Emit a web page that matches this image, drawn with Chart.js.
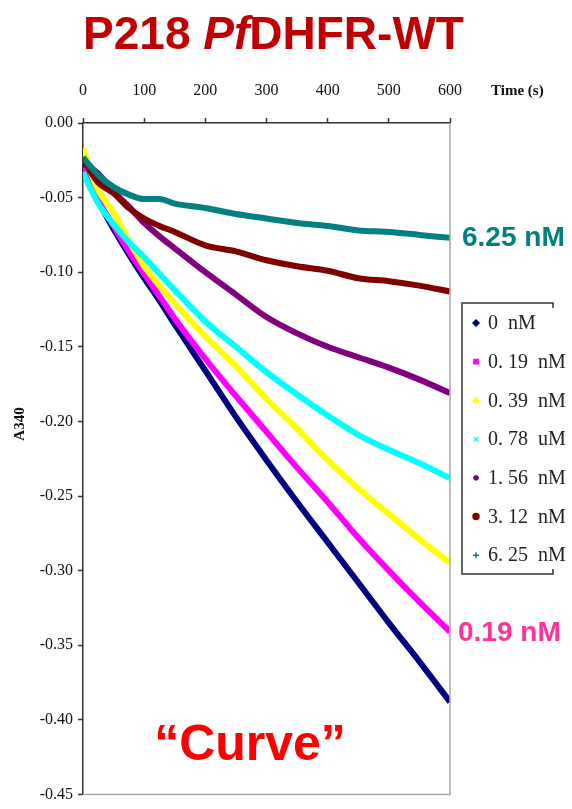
<!DOCTYPE html>
<html>
<head>
<meta charset="utf-8">
<script src="https://cdn.jsdelivr.net/npm/chart.js@4.4.0/dist/chart.umd.min.js"></script>
<style>
  html, body { margin: 0; padding: 0; background: #fff; }
  #wrap { position: relative; width: 572px; height: 809px; }
  #title {
    position: absolute; left: 0; top: 7px; width: 547px; text-align: center;
    font: bold 46px "Liberation Sans", Arial, sans-serif; line-height: 52px; color: #c00000;
    z-index: 2;
  }
  canvas { position: absolute; left: 0; top: 0; }
</style>
</head>
<body>
<div id="wrap">
  <div id="title">P218 <i>Pf</i>DHFR-WT</div>
  <canvas id="lineChart" width="572" height="809"></canvas>
</div>
<script>
"use strict";

// time points (s)
const times = [0, 10, 25, 50, 75, 100, 125, 150, 200, 250, 300, 350, 400, 450, 500, 550, 600];

// A340 readings for each inhibitor concentration
const nm_0    = [-0.025, -0.037, -0.052, -0.071, -0.088, -0.104, -0.119, -0.135, -0.166, -0.197, -0.226, -0.254, -0.281, -0.308, -0.335, -0.361, -0.388];
const nm_019  = [-0.030, -0.040, -0.052, -0.069, -0.086, -0.101, -0.116, -0.131, -0.158, -0.183, -0.207, -0.231, -0.254, -0.278, -0.300, -0.321, -0.341];
const nm_039  = [-0.017, -0.030, -0.045, -0.060, -0.079, -0.096, -0.109, -0.121, -0.143, -0.163, -0.185, -0.205, -0.226, -0.245, -0.262, -0.279, -0.295];
const nm_078  = [-0.033, -0.042, -0.054, -0.068, -0.080, -0.090, -0.101, -0.112, -0.133, -0.150, -0.167, -0.182, -0.196, -0.209, -0.219, -0.228, -0.238];
const nm_156  = [-0.025, -0.029, -0.034, -0.046, -0.056, -0.067, -0.076, -0.084, -0.100, -0.115, -0.130, -0.141, -0.150, -0.157, -0.164, -0.172, -0.181];
const nm_312  = [-0.023, -0.031, -0.040, -0.047, -0.057, -0.064, -0.069, -0.073, -0.082, -0.086, -0.092, -0.096, -0.099, -0.104, -0.106, -0.109, -0.113];
const nm_625  = [-0.023, -0.028, -0.035, -0.043, -0.048, -0.051, -0.051, -0.054, -0.057, -0.061, -0.064, -0.067, -0.069, -0.072, -0.073, -0.075, -0.077];

const legendLabels = ["0  nM", "0. 19  nM", "0. 39  nM", "0. 78  uM", "1. 56  nM", "3. 12  nM", "6. 25  nM"];
const yTicks = [0, -0.05, -0.10, -0.15, -0.20, -0.25, -0.30, -0.35, -0.40, -0.45];

const series = [nm_0, nm_019, nm_039, nm_078, nm_156, nm_312, nm_625];
const colors = ["#000080", "#ff00ff", "#ffff00", "#00ffff", "#800080", "#800000", "#008080"];
const marks = ["rectRot", "rect", "triangle", "crossRot", "star", "circle", "cross"];

const serif = '"Liberation Serif", "Times New Roman", serif';
const sans = '"Liberation Sans", Arial, sans-serif';

const extras = {
  id: "extras",
  afterDraw(chart) {
    const ctx = chart.ctx;
    const a = chart.chartArea;
    const ys = chart.scales.y;
    ctx.save();

    // grey right / bottom frame
    ctx.strokeStyle = "#a8a8a8";
    ctx.lineWidth = 1.5;
    ctx.beginPath();
    ctx.moveTo(a.right, a.top);
    ctx.lineTo(a.right, a.bottom);
    ctx.lineTo(a.left, a.bottom);
    ctx.stroke();

    // axis titles
    ctx.fillStyle = "#111";
    ctx.font = "bold 15px " + serif;
    ctx.textAlign = "left";
    ctx.textBaseline = "middle";
    ctx.fillText("Time (s)", 491, 91);
    ctx.save();
    ctx.translate(20, 424);
    ctx.rotate(-Math.PI / 2);
    ctx.textAlign = "center";
    ctx.fillText("A340", 0, 0);
    ctx.restore();

    // end labels
    ctx.font = "bold 28px " + sans;
    ctx.textAlign = "left";
    ctx.fillStyle = "#008080";
    ctx.fillText("6.25 nM", a.right + 12, ys.getPixelForValue(nm_625[nm_625.length - 1]));
    ctx.fillStyle = "#ff3399";
    ctx.fillText("0.19 nM", a.right + 8, ys.getPixelForValue(nm_019[nm_019.length - 1]) + 2);

    ctx.fillStyle = "#ff0000";
    ctx.font = "bold 50px " + sans;
    ctx.textAlign = "center";
    ctx.fillText("\u201cCurve\u201d", 250, 746);

    // legend box
    const lx = 462, top = 303, bot = 574, rx = 553;
    ctx.strokeStyle = "#333";
    ctx.lineWidth = 1.5;
    ctx.beginPath();
    ctx.moveTo(rx, top + 5);
    ctx.lineTo(rx, top);
    ctx.lineTo(lx, top);
    ctx.lineTo(lx, bot);
    ctx.lineTo(rx, bot);
    ctx.lineTo(rx, bot - 5);
    ctx.stroke();

    ctx.font = "20px " + serif;
    ctx.textAlign = "left";
    ctx.textBaseline = "middle";
    chart.data.datasets.forEach((ds, i) => {
      const y = 323 + i * 38.7;
      ctx.fillStyle = ds.borderColor;
      ctx.strokeStyle = ds.borderColor;
      Chart.helpers.drawPoint(ctx, { pointStyle: ds.pointStyle, radius: 3, rotation: 0, borderWidth: 1.5 }, 476, y);
      ctx.fillStyle = "#222";
      ctx.fillText(ds.label, 488, y + 1);
    });

    ctx.restore();
  },
};

const datasets = series.map((vals, i) => ({
  label: legendLabels[i],
  data: times.map((t, k) => ({ x: t, y: vals[k] })),
  borderColor: colors[i],
  backgroundColor: colors[i],
  pointStyle: marks[i],
  pointRadius: 0,
  borderWidth: 6,
  fill: false,
  cubicInterpolationMode: "monotone",
  order: series.length - i,
}));

let ctx = document.getElementById("lineChart").getContext("2d");

let myLineChart = new Chart(ctx, {
  type: "line",
  data: { datasets: datasets },
  options: {
    responsive: false,
    animation: false,
    devicePixelRatio: 1,
    layout: { padding: { left: 0, right: 122, top: 0, bottom: 11 } },
    plugins: { legend: { display: false }, tooltip: { enabled: false } },
    scales: {
      x: {
        type: "linear",
        position: "top",
        min: 0,
        max: 600,
        ticks: { stepSize: 100, color: "#111", font: { family: serif, size: 16 }, padding: 18, maxRotation: 0 },
        grid: { drawOnChartArea: false, tickLength: 5, tickColor: "#333", tickWidth: 1.5 },
        border: { color: "#333", width: 1.5 },
        afterFit: (s) => { s.height = 123; },
      },
      y: {
        min: -0.45,
        max: 0,
        afterBuildTicks: (s) => { s.ticks = yTicks.map((v) => ({ value: v })); },
        ticks: { color: "#111", font: { family: serif, size: 16 }, padding: 5, callback: (v) => v.toFixed(2) },
        grid: { drawOnChartArea: false, tickLength: 5, tickColor: "#333", tickWidth: 1.5 },
        border: { color: "#333", width: 1.5 },
        afterFit: (s) => { s.width = 83; },
      },
    },
  },
  plugins: [extras],
});
</script>
</body>
</html>
